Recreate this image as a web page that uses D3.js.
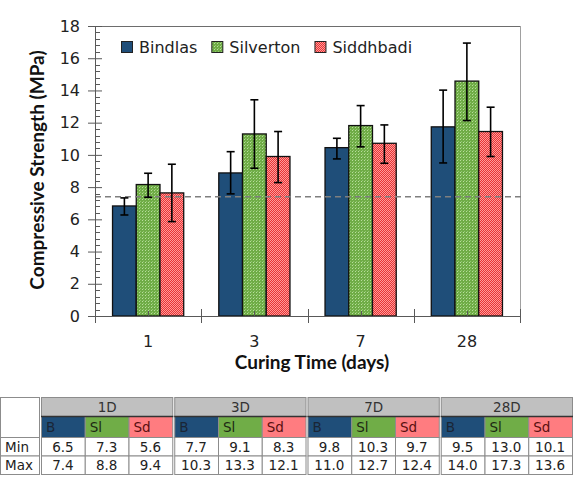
<!DOCTYPE html>
<html><head><meta charset="utf-8">
<script src="https://cdn.jsdelivr.net/npm/d3@7"></script>
<style>body{margin:0;background:#fff}svg{display:block}</style>
</head><body>
<svg id="chart" width="576" height="478"></svg>
<script>
// ---------- data ----------
const categories = ["1", "3", "7", "28"];
const seriesNames = ["Bindlas", "Silverton", "Siddhbadi"];
const bindlas = [6.83, 8.88, 10.45, 11.74];
const silverton = [8.16, 11.30, 11.82, 14.58];
const siddhbadi = [7.64, 9.90, 10.72, 11.45];
const bindlasLow = [6.27, 7.58, 9.75, 9.50];
const bindlasHigh = [7.33, 10.20, 11.03, 14.02];
const silvertonLow = [7.37, 9.17, 10.50, 12.13];
const silvertonHigh = [8.86, 13.42, 13.06, 16.94];
const siddhbadiLow = [5.86, 8.28, 9.48, 9.90];
const siddhbadiHigh = [9.42, 11.45, 11.86, 12.96];
const threshold = 7.4;
const yTicks = [0, 2, 4, 6, 8, 10, 12, 14, 16, 18];

const tableGroups = ["1D", "3D", "7D", "28D"];
const tableSub = ["B", "Sl", "Sd"];
const tableRows = ["Min", "Max"];
const tableMin = [[6.5, 7.3, 5.6], [7.7, 9.1, 8.3], [9.8, 10.3, 9.7], [9.5, 13.0, 10.1]];
const tableMax = [[7.4, 8.8, 9.4], [10.3, 13.3, 12.1], [11.0, 12.7, 12.4], [14.0, 17.3, 13.6]];

// ---------- layout ----------
const svg = d3.select("#chart");
const L = 95, R = 520, T = 26, B = 316;
const y = d3.scaleLinear().domain([0, 18]).range([B, T]);
const x0 = d3.scaleBand().domain(categories).range([L, R]);
const grp = 0.67;
const x1 = d3.scaleBand().domain(seriesNames)
  .range([x0.bandwidth() * (1 - grp) / 2, x0.bandwidth() * (1 + grp) / 2]);

const defs = svg.append("defs");
const pg = defs.append("pattern").attr("id", "pGreen").attr("patternUnits", "userSpaceOnUse")
  .attr("width", 3).attr("height", 3);
pg.append("rect").attr("width", 3).attr("height", 3).attr("fill", "#6fac46");
pg.append("rect").attr("x", 1).attr("y", 1).attr("width", 1).attr("height", 1).attr("fill", "#b8de9c");
pg.append("rect").attr("x", 2).attr("y", 0).attr("width", 1).attr("height", 1).attr("fill", "#93c872");
const pr = defs.append("pattern").attr("id", "pRed").attr("patternUnits", "userSpaceOnUse")
  .attr("width", 2).attr("height", 2);
pr.append("rect").attr("width", 2).attr("height", 2).attr("fill", "#e83434");
pr.append("rect").attr("x", 0).attr("y", 0).attr("width", 1).attr("height", 1).attr("fill", "#ff9a9a");
pr.append("rect").attr("x", 1).attr("y", 1).attr("width", 1).attr("height", 1).attr("fill", "#ff9a9a");

const fills = { Bindlas: "#1f4e79", Silverton: "url(#pGreen)", Siddhbadi: "url(#pRed)" };
const vals = { Bindlas: bindlas, Silverton: silverton, Siddhbadi: siddhbadi };
const lows = { Bindlas: bindlasLow, Silverton: silvertonLow, Siddhbadi: siddhbadiLow };
const highs = { Bindlas: bindlasHigh, Silverton: silvertonHigh, Siddhbadi: siddhbadiHigh };

// frame (top/right)
svg.append("line").attr("x1", 88).attr("x2", R).attr("y1", T + 0.5).attr("y2", T + 0.5)
  .attr("stroke", "#6d6d6d").attr("stroke-width", 1);
svg.append("line").attr("x1", R + 0.5).attr("x2", R + 0.5).attr("y1", T).attr("y2", B)
  .attr("stroke", "#a0a0a0").attr("stroke-width", 1);

// bars
const rows = [];
categories.forEach((c, i) => seriesNames.forEach(s => rows.push({ c, i, s })));
const gBars = svg.append("g");
gBars.selectAll("rect").data(rows).join("rect")
  .attr("x", d => x0(d.c) + x1(d.s))
  .attr("y", d => y(vals[d.s][d.i]))
  .attr("width", x1.bandwidth())
  .attr("height", d => y(0) - y(vals[d.s][d.i]))
  .attr("fill", d => fills[d.s])
  .attr("stroke", "#111").attr("stroke-width", 1.3);

// dashed threshold
svg.append("line").attr("x1", L).attr("x2", 525).attr("y1", y(threshold)).attr("y2", y(threshold))
  .attr("stroke", "#7f7f7f").attr("stroke-width", 1.4).attr("stroke-dasharray", "6,4");

// error bars
const gErr = svg.append("g").attr("stroke", "#000").attr("stroke-width", 1.6);
rows.forEach(d => {
  const cx = x0(d.c) + x1(d.s) + x1.bandwidth() / 2;
  const lo = y(lows[d.s][d.i]), hi = y(highs[d.s][d.i]);
  gErr.append("line").attr("x1", cx).attr("x2", cx).attr("y1", lo).attr("y2", hi);
  gErr.append("line").attr("x1", cx - 4).attr("x2", cx + 4).attr("y1", lo).attr("y2", lo);
  gErr.append("line").attr("x1", cx - 4).attr("x2", cx + 4).attr("y1", hi).attr("y2", hi);
});

// y axis
const axisCol = "#595959";
const yAx = svg.append("g").attr("transform", `translate(${L},0)`)
  .call(d3.axisLeft(y).tickValues(yTicks).tickSize(7).tickPadding(8));
yAx.select(".domain").attr("stroke", axisCol);
yAx.selectAll(".tick line").attr("stroke", axisCol).attr("x2", 7).attr("x1", -7);
yAx.selectAll(".tick text").attr("font-family", "DejaVu Sans").attr("font-size", 16).attr("fill", "#222");
// minor ticks
const minor = d3.range(0, 18.01, 0.4).filter(v => Math.abs(v / 2 - Math.round(v / 2)) > 0.01);
svg.append("g").selectAll("line").data(minor).join("line")
  .attr("x1", L).attr("x2", L + 5).attr("y1", d => Math.round(y(d)) + 0.5).attr("y2", d => Math.round(y(d)) + 0.5)
  .attr("stroke", axisCol).attr("stroke-width", 1);

// x axis
const xAx = svg.append("g").attr("transform", `translate(0,${B})`)
  .call(d3.axisBottom(x0).tickSize(0).tickPadding(20));
xAx.select(".domain").attr("stroke", axisCol);
xAx.selectAll(".tick text").attr("font-family", "DejaVu Sans").attr("font-size", 16).attr("fill", "#222");
const bounds = categories.map(c => x0(c)).concat([R]);
svg.append("g").selectAll("line").data(bounds).join("line")
  .attr("x1", d => Math.round(d) + 0.5).attr("x2", d => Math.round(d) + 0.5)
  .attr("y1", B - 7).attr("y2", B + 7).attr("stroke", axisCol);
svg.append("g").selectAll("line").data(categories).join("line")
  .attr("x1", d => Math.round(x0(d) + x0.bandwidth() / 2) + 0.5).attr("x2", d => Math.round(x0(d) + x0.bandwidth() / 2) + 0.5)
  .attr("y1", B - 5).attr("y2", B).attr("stroke", axisCol);

// axis titles
svg.append("text").attr("x", 312).attr("y", 369).attr("text-anchor", "middle")
  .attr("font-family", "Lato").attr("font-weight", "bold").attr("font-size", 19).attr("fill", "#111")
  .text("Curing Time (days)");
svg.append("text").attr("transform", "translate(44,170) rotate(-90)").attr("text-anchor", "middle")
  .attr("font-family", "Lato").attr("font-weight", "bold").attr("font-size", 19).attr("fill", "#111")
  .text("Compressive Strength (MPa)");

// legend
let lx = 121;
const lg = svg.append("g");
seriesNames.forEach(s => {
  lg.append("rect").attr("x", lx + 0.5).attr("y", 41.5).attr("width", 11).attr("height", 11)
    .attr("fill", fills[s]).attr("stroke", "#222").attr("stroke-width", 1);
  const t = lg.append("text").attr("x", lx + 18).attr("y", 53)
    .attr("font-family", "DejaVu Sans").attr("font-size", 16).attr("fill", "#222").text(s);
  lx += 18 + t.node().getComputedTextLength() + 14;
});

// ---------- table ----------
const tb = svg.append("g");
const tTop = 397, h1 = 19, h2 = 21, hr = 18.5;
const yH2 = tTop + h1, yRow0 = yH2 + h2;
const gx = d3.scaleBand().domain(tableGroups).range([40, 573]);
const subFill = { B: "#1f4e79", Sl: "#70ad47", Sd: "#ff7c80" };
const subText = { B: "#1a2535", Sl: "#1e2a14", Sd: "#5a1010" };
const tf = "DejaVu Sans", tfs = 13.5;
const borderC = "#8c8c8c";

// top-left & label cells
tb.append("rect").attr("x", 0.5).attr("y", tTop + 0.5).attr("width", 39).attr("height", h1 + h2)
  .attr("fill", "#fff").attr("stroke", borderC);
tableRows.forEach((r, ri) => {
  tb.append("rect").attr("x", 0.5).attr("y", yRow0 + ri * hr + 0.5).attr("width", 39).attr("height", hr)
    .attr("fill", "#fff").attr("stroke", borderC);
  tb.append("text").attr("x", 5).attr("y", yRow0 + ri * hr + 14.5)
    .attr("font-family", tf).attr("font-size", tfs).attr("fill", "#222").text(r);
});

tableGroups.forEach((g, gi) => {
  const gx0 = gx(g) + 1, gw = gx.bandwidth() - 1;
  tb.append("rect").attr("x", gx0 + 0.5).attr("y", tTop + 0.5).attr("width", gw - 1).attr("height", h1)
    .attr("fill", "#c0c0c0").attr("stroke", borderC);
  tb.append("text").attr("x", gx0 + gw / 2).attr("y", tTop + 15).attr("text-anchor", "middle")
    .attr("font-family", tf).attr("font-size", tfs).attr("fill", "#333").text(g);
  const cw = (gw - 1) / 3;
  tableSub.forEach((s, si) => {
    const cx = gx0 + si * cw;
    tb.append("rect").attr("x", cx + 0.5).attr("y", yH2 + 0.5).attr("width", cw).attr("height", h2)
      .attr("fill", subFill[s]).attr("stroke", borderC);
    tb.append("text").attr("x", cx + 5).attr("y", yH2 + 16)
      .attr("font-family", tf).attr("font-size", tfs).attr("fill", subText[s]).text(s);
    [tableMin, tableMax].forEach((arr, ri) => {
      tb.append("rect").attr("x", cx + 0.5).attr("y", yRow0 + ri * hr + 0.5).attr("width", cw).attr("height", hr)
        .attr("fill", "#fff").attr("stroke", borderC);
      tb.append("text").attr("x", cx + cw / 2).attr("y", yRow0 + ri * hr + 14.5).attr("text-anchor", "middle")
        .attr("font-family", tf).attr("font-size", tfs).attr("fill", "#222").text(arr[gi][si].toFixed(1));
    });
  });
  // dark line between header rows
  tb.append("line").attr("x1", gx0).attr("x2", gx0 + gw).attr("y1", yH2 + 0.5).attr("y2", yH2 + 0.5)
    .attr("stroke", "#333").attr("stroke-width", 1.5);
});
</script>
</body></html>
